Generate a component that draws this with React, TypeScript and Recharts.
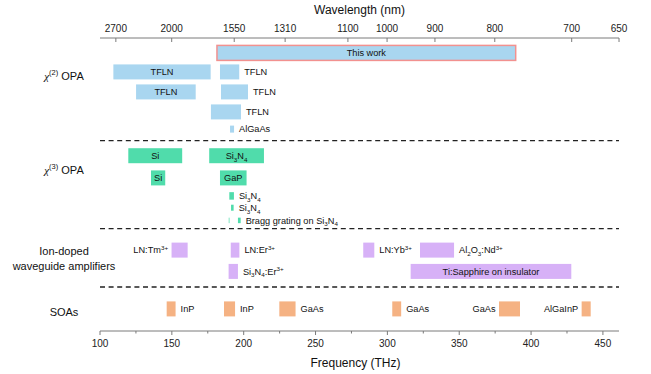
import React from "react";
import { ComposedChart, Bar, XAxis, YAxis, ReferenceLine } from "recharts";

// c in nm*THz, used to place the wavelength ticks on the frequency scale
const C_NM_THZ = 299792.458;

const wavelengthTicks = [2700, 2000, 1550, 1310, 1100, 1000, 900, 800, 700, 650];
const frequencyTicks = [100, 125, 150, 175, 200, 225, 250, 275, 300, 325, 350, 375, 400, 425, 450];

// segments: frequency range in THz
const thisWork = [{ id: "work", row: "work", range: [181.4, 389.3], label: "This work" }];

const chi2Opa = [
  { id: "c2a1", row: "c2a", range: [109.3, 177.0], label: "TFLN" },
  { id: "c2a2", row: "c2a", range: [183.5, 196.9], label: "TFLN" },
  { id: "c2b1", row: "c2b", range: [125.1, 166.6], label: "TFLN" },
  { id: "c2b2", row: "c2b", range: [184.2, 203.0], label: "TFLN" },
  { id: "c2c1", row: "c2c", range: [177.2, 198.1], label: "TFLN" },
  { id: "c2d1", row: "c2d", range: [190.5, 193.3], label: "AlGaAs" },
];

const chi3Opa = [
  { id: "c3a1", row: "c3a", range: [119.7, 157.2], label: "Si" },
  { id: "c3a2", row: "c3a", range: [176.0, 214.1], label: "Si_3N_4" },
  { id: "c3b1", row: "c3b", range: [135.5, 145.4], label: "Si" },
  { id: "c3b2", row: "c3b", range: [183.5, 202.0], label: "GaP" },
  { id: "c3c1", row: "c3c", range: [190.0, 193.2], label: "Si_3N_4" },
  { id: "c3d1", row: "c3d", range: [191.2, 193.0], label: "Si_3N_4" },
  { id: "c3e1", row: "c3e", range: [189.6, 190.1], label: "" },
  { id: "c3e2", row: "c3e", range: [196.0, 197.9], label: "Bragg grating on Si_3N_4" },
];

const ionDoped = [
  { id: "ida1", row: "ida", range: [149.8, 161.0], label: "LN:Tm^{3+}" },
  { id: "ida2", row: "ida", range: [191.0, 197.0], label: "LN:Er^{3+}" },
  { id: "ida3", row: "ida", range: [283.2, 290.9], label: "LN:Yb^{3+}" },
  { id: "ida4", row: "ida", range: [322.7, 346.4], label: "Al_2O_3:Nd^{3+}" },
  { id: "idb1", row: "idb", range: [189.5, 196.0], label: "Si_3N_4:Er^{3+}" },
  { id: "idb2", row: "idb", range: [316.2, 428.0], label: "Ti:Sapphire on insulator" },
];

const soas = [
  { id: "soa1", row: "soa", range: [146.4, 152.6], label: "InP" },
  { id: "soa2", row: "soa", range: [186.3, 194.0], label: "InP" },
  { id: "soa3", row: "soa", range: [224.8, 236.1], label: "GaAs" },
  { id: "soa4", row: "soa", range: [303.4, 309.6], label: "GaAs" },
  { id: "soa5", row: "soa", range: [377.7, 392.3], label: "GaAs" },
  { id: "soa6", row: "soa", range: [435.2, 441.5], label: "AlGaInP" },
];

const sectionLabels = ["χ^{(2)} OPA", "χ^{(3)} OPA", "Ion-doped\nwaveguide amplifiers", "SOAs"];

// ---- layout (y units = px below the top axis) ----
const ROW_Y: Record<string, number> = {
  work: 14.5, c2a: 33.5, c2b: 53.5, c2c: 73.5, c2d: 90.7,
  c3a: 117.3, c3b: 139.5, c3c: 157.5, c3d: 169.3, c3e: 182,
  ida: 211.7, idb: 233, soa: 270.5,
};
const ROW_H: Record<string, number> = { c2d: 7, c3c: 7.5, c3d: 6, c3e: 5.5 };
const BAR_H = 15;
const SEPARATORS = [102.7, 190.7, 249];
const SECTION_Y = [38, 132, 220.4, 273.7];
const LABEL_RIGHT = new Set(["c2a2", "c2b2", "c2c1", "c2d1", "c3c1", "c3d1", "c3e2", "ida2", "ida3", "ida4", "idb1", "soa1", "soa2", "soa3", "soa4"]);
const LABEL_LEFT = new Set(["ida1", "soa5", "soa6"]);
const COLORS: Record<string, string> = {
  work: "#a9d6f0", chi2: "#a9d6f0", chi3: "#50dcab", ion: "#d7b1f7", soa: "#f5b283",
};
const FONT = '"Liberation Sans", Arial, sans-serif';
const AXIS = "#7a7a7a";

const rows = [
  ...thisWork.map((s) => ({ ...s, group: "work" })),
  ...chi2Opa.map((s) => ({ ...s, group: "chi2" })),
  ...chi3Opa.map((s) => ({ ...s, group: "chi3" })),
  ...ionDoped.map((s) => ({ ...s, group: "ion" })),
  ...soas.map((s) => ({ ...s, group: "soa" })),
].map((s) => ({ ...s, y: ROW_Y[s.row] }));

function parseRich(s: string) {
  const parts: { t: string; k: string }[] = [];
  let buf = "";
  let i = 0;
  while (i < s.length) {
    const c = s[i];
    if (c === "_" || c === "^") {
      if (buf) parts.push({ t: buf, k: "n" });
      buf = "";
      let t = "";
      if (s[i + 1] === "{") {
        const j = s.indexOf("}", i + 2);
        t = s.slice(i + 2, j);
        i = j + 1;
      } else {
        t = s[i + 1];
        i += 2;
      }
      parts.push({ t, k: c === "_" ? "sub" : "sup" });
    } else {
      buf += c;
      i++;
    }
  }
  if (buf) parts.push({ t: buf, k: "n" });
  return parts;
}

function richTspans(text: string, size: number) {
  let shift = 0;
  return parseRich(text).map((p, i) => {
    const target = p.k === "sub" ? size * 0.3 : p.k === "sup" ? -size * 0.42 : 0;
    const dy = target - shift;
    shift = target;
    const chi = p.t === "χ";
    return (
      <tspan
        key={i}
        dy={dy}
        fontSize={p.k === "n" ? size : size * 0.68}
        fontStyle={chi ? "italic" : undefined}
        fontFamily={chi ? '"Liberation Serif", serif' : undefined}
      >
        {p.t}
      </tspan>
    );
  });
}

const Segment = (props: any) => {
  const { x, y, width, height, payload } = props;
  const cy = y + height / 2;
  const h = ROW_H[payload.row] ?? BAR_H;
  const side = LABEL_RIGHT.has(payload.id) ? "right" : LABEL_LEFT.has(payload.id) ? "left" : "in";
  const tx = side === "right" ? x + width + 5 : side === "left" ? x - 3.5 : x + width / 2;
  const anchor = side === "right" ? "start" : side === "left" ? "end" : "middle";
  const isWork = payload.group === "work";
  return (
    <g>
      <rect
        x={x}
        y={cy - h / 2}
        width={Math.max(width, 0.6)}
        height={h}
        fill={COLORS[payload.group]}
        stroke={isWork ? "#f2918f" : "none"}
        strokeWidth={isWork ? 1.5 : 0}
      />
      {payload.label ? (
        <text x={tx} y={cy + 3.3} textAnchor={anchor} fill="#111" fontFamily={FONT} style={{ whiteSpace: "pre" }}>
          {richTspans(payload.label, 9.2)}
        </text>
      ) : null}
    </g>
  );
};

const SectionTick = (props: any) => {
  const { y, index } = props;
  const lines = sectionLabels[index].split("\n");
  const start = y - ((lines.length - 1) * 15.3) / 2;
  return (
    <g>
      {lines.map((ln, i) => (
        <text key={i} x={64} y={start + i * 15.3 + 4} textAnchor="middle" fill="#111" fontFamily={FONT} style={{ whiteSpace: "pre" }}>
          {richTspans(ln, 11)}
        </text>
      ))}
    </g>
  );
};

const TopTick = (props: any) => {
  const { x, y, payload } = props;
  return (
    <g>
      <line x1={x} x2={x} y1={y} y2={y + 4} stroke={AXIS} />
      <text x={x} y={y - 6} textAnchor="middle" fontSize={10} fill="#222" fontFamily={FONT}>
        {Math.round(C_NM_THZ / payload.value)}
      </text>
    </g>
  );
};

const BottomTick = (props: any) => {
  const { x, y, payload } = props;
  const major = payload.value % 50 === 0;
  return (
    <g>
      <line x1={x} x2={x} y1={y} y2={y + (major ? 4 : 2.5)} stroke={AXIS} />
      {major ? (
        <text x={x} y={y + 15.5} textAnchor="middle" fontSize={10} fill="#222" fontFamily={FONT}>
          {payload.value}
        </text>
      ) : null}
    </g>
  );
};

export default function App() {
  return (
    <div style={{ position: "fixed", left: 0, top: 0, width: 651, height: 374, background: "#fff" }}>
      <ComposedChart
        width={651}
        height={374}
        data={rows}
        layout="vertical"
        margin={{ top: 0, right: 32, bottom: 0, left: 0 }}
      >
        <XAxis
          type="number"
          domain={[100, 461.2]}
          ticks={frequencyTicks}
          interval={0}
          height={43}
          stroke={AXIS}
          tickLine={false}
          tickSize={0}
          tickMargin={0}
          tick={<BottomTick />}
          allowDataOverflow
          label={(p: any) => (
            <text x={p.viewBox.x + p.viewBox.width / 2 - 4} y={p.viewBox.y + 36} textAnchor="middle" fontSize={12} fill="#111" fontFamily={FONT}>
              Frequency (THz)
            </text>
          )}
        />
        <XAxis
          xAxisId="top"
          orientation="top"
          type="number"
          domain={[100, 461.2]}
          ticks={wavelengthTicks.map((w) => C_NM_THZ / w)}
          interval={0}
          height={38}
          stroke={AXIS}
          tickLine={false}
          tickSize={0}
          tickMargin={0}
          tick={<TopTick />}
          allowDataOverflow
          label={(p: any) => (
            <text x={p.viewBox.x + p.viewBox.width / 2} y={p.viewBox.y + 14} textAnchor="middle" fontSize={12} fill="#111" fontFamily={FONT}>
              Wavelength (nm)
            </text>
          )}
        />
        <YAxis
          type="number"
          dataKey="y"
          domain={[0, 293]}
          width={100}
          ticks={SECTION_Y}
          interval={0}
          axisLine={false}
          tickLine={false}
          tick={<SectionTick />}
          allowDataOverflow
        />
        {SEPARATORS.map((s) => (
          <ReferenceLine key={s} y={s} stroke="#222" strokeWidth={1.3} strokeDasharray="5 3.6" />
        ))}
        <Bar dataKey="range" barSize={BAR_H} shape={<Segment />} isAnimationActive={false} />
      </ComposedChart>
    </div>
  );
}
